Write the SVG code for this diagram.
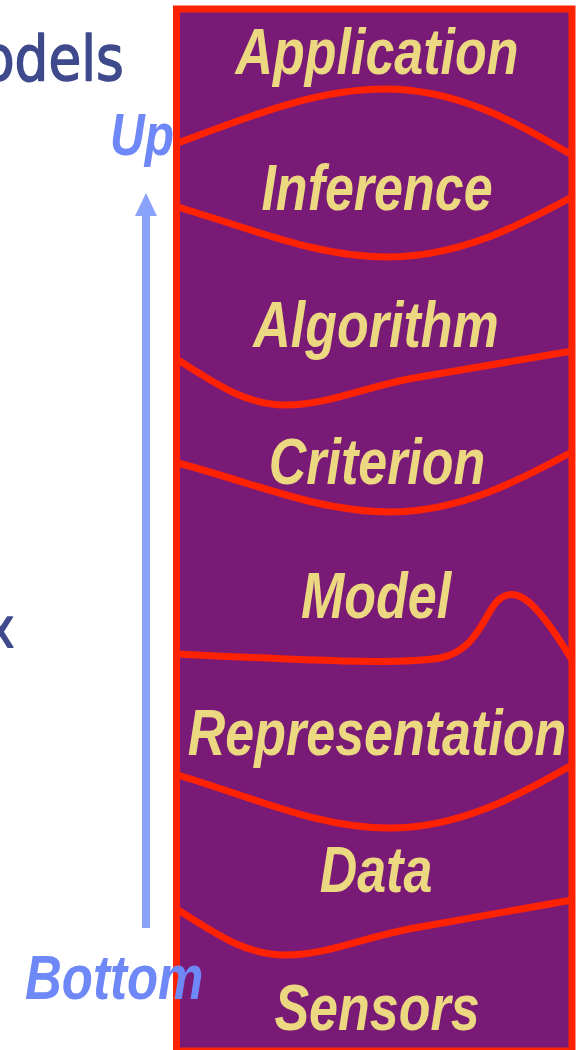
<svg xmlns="http://www.w3.org/2000/svg" width="576" height="1050" viewBox="0 0 576 1050">
  <style>
    .side { font-family: "DejaVu Sans", Tahoma, sans-serif; fill: #3F4A8C; stroke: #3F4A8C; stroke-width: 1.5; stroke-linejoin: round; }
    .dir { font-family: "Liberation Sans", Arial, sans-serif; font-weight: bold; font-style: italic; fill: #6E89F7; }
    .lbl { font-family: "Liberation Sans", Arial, sans-serif; font-weight: bold; font-style: italic; font-size: 52px; fill: #ECD880; text-anchor: middle; }
    .wave { fill: none; stroke: #FF2200; stroke-width: 7; stroke-linejoin: round; }
  </style>

  <!-- text cut by the left edge -->
  <g id="side-text">
    <text class="side" font-size="62" transform="translate(-18,80) scale(0.86,1)">odels</text>
    <text class="side" font-size="55" transform="translate(-13.5,647) scale(0.86,1)">x</text>
  </g>

  <!-- bottom-up direction -->
  <g id="up-label">
    <text class="dir" font-size="48" transform="translate(110,155) scale(1,1.25)">Up</text>
  </g>
  <g id="connectors">
    <line x1="146" y1="928" x2="146" y2="214" stroke="#88A3F9" stroke-width="8"/>
    <path d="M135,216 L146,193 L157,216 Z" fill="#88A3F9"/>
  </g>

  <!-- layered stack -->
  <g id="stack">
    <rect x="176.5" y="9" width="395.5" height="1042" fill="#7A1A77" stroke="#FF2200" stroke-width="7"/>
  </g>
  <g id="boundaries">
    <path class="wave" d="M178,143 C260,112 320,89 385,89 C460,89 520,125 572,155"/>
    <path class="wave" d="M178,207 C260,232 320,257 387,257 C460,257 520,225 572,197"/>
    <path class="wave" d="M178,360 C215,383 245,405 285,405 C330,405 365,386 420,377 L572,351"/>
    <path class="wave" d="M178,463 C260,485 320,512 390,512 C460,512 520,480 572,452"/>
    <path class="wave" d="M178,654 C300,660 400,665 440,658 C470,652 480,628 492,608 C502,592 515,590 530,603 C545,617 560,640 572,660"/>
    <path class="wave" d="M178,775 C260,800 320,828 390,828 C460,828 520,795 572,765"/>
    <path class="wave" d="M178,910 C215,933 245,955 285,955 C330,955 365,936 420,927 L572,900"/>
  </g>

  <g id="layer-application"><text class="lbl" transform="translate(377,74) scale(1,1.24)">Application</text></g>
  <g id="layer-inference"><text class="lbl" transform="translate(377,210) scale(1,1.24)">Inference</text></g>
  <g id="layer-algorithm"><text class="lbl" transform="translate(376,347) scale(1,1.24)">Algorithm</text></g>
  <g id="layer-criterion"><text class="lbl" transform="translate(377,484) scale(1,1.24)">Criterion</text></g>
  <g id="layer-model"><text class="lbl" transform="translate(376,618) scale(1,1.24)">Model</text></g>
  <g id="layer-representation"><text class="lbl" transform="translate(377,755) scale(1,1.24)">Representation</text></g>
  <g id="layer-data"><text class="lbl" transform="translate(376,892) scale(1,1.24)">Data</text></g>
  <g id="layer-sensors"><text class="lbl" transform="translate(377,1030) scale(1,1.24)">Sensors</text></g>

  <g id="bottom-label">
    <text class="dir" font-size="51" transform="translate(25,999) scale(1,1.22)">Bottom</text>
  </g>
</svg>
